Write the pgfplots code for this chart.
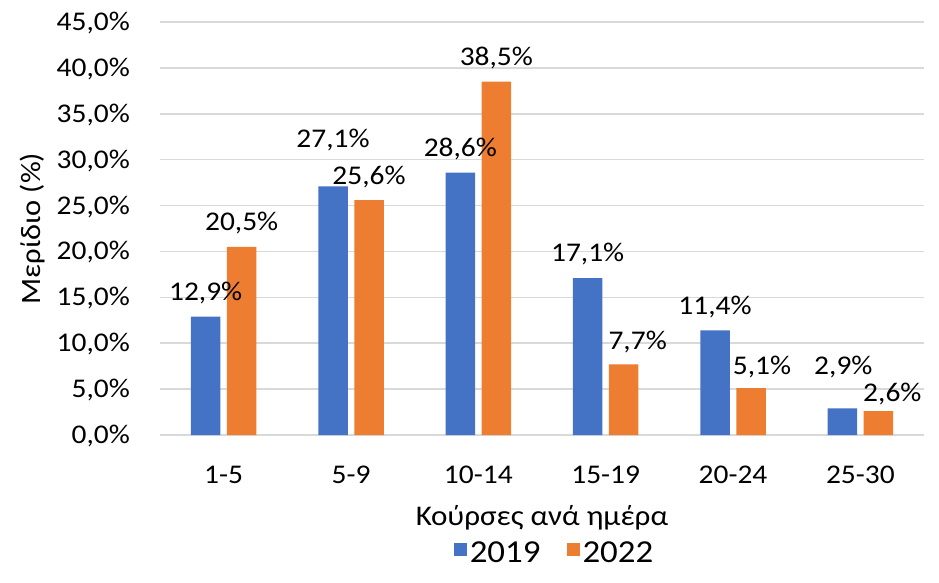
\documentclass[border=0pt]{standalone}
\usepackage{pgfplots}
\pgfplotsset{compat=1.18}
\usepackage{pgfplotstable}
\usepackage{fontspec}
\setmainfont{Carlito}[FakeStretch=1.09]
\definecolor{cblue}{HTML}{4472C4}
\definecolor{corange}{HTML}{ED7D31}
\definecolor{cgrid}{HTML}{D9D9D9}

\pgfplotstableread{
x y dx dy
0 12.9 0 0
1 27.1 0 23
2 28.6 0 0
3 17.1 0 1
4 11.4 0 0
5 2.9 1 18
}\dataA
\pgfplotstableread{
x y dx dy
0 20.5 0 0
1 25.6 0 0
2 38.5 0 0
3 7.7 14 -1
4 5.1 11 -2
5 2.6 14 -6
}\dataB

\begin{document}
\begin{tikzpicture}[font=\fontsize{27pt}{32pt}\selectfont]
\useasboundingbox (-160pt,-148pt) rectangle (779pt,435pt);
\begin{axis}[
  scale only axis,
  width=764pt, height=413pt,
  at={(0,0)}, anchor=south west,
  xmin=-0.5, xmax=5.5, ymin=0, ymax=45,
  enlargelimits=false,
  clip=false,
  ybar=6.5pt, bar width=29.5pt,
  axis line style={draw=none},
  major tick length=0pt,
  ymajorgrids, grid style={cgrid, line width=1.5pt},
  xtick=data,
  xticklabels={1-5,5-9,10-14,15-19,20-24,25-30},
  ytick={0,5,...,45},
  yticklabels={{0,0\%},{5,0\%},{10,0\%},{15,0\%},{20,0\%},{25,0\%},{30,0\%},{35,0\%},{40,0\%},{45,0\%}},
  xticklabel style={anchor=base, inner sep=0pt, yshift=-48pt},
  yticklabel style={anchor=base east, inner sep=0pt, xshift=-30pt, yshift=-8.5pt},
  xlabel={Κούρσες ανά ημέρα},
  xlabel style={at={(axis description cs:0.5,0)}, anchor=base, inner sep=0pt, yshift=-90pt, font=\fontsize{28.5pt}{33pt}\selectfont},
  ylabel={Μερίδιο (\%)},
  ylabel style={at={(axis description cs:0,0.5)}, anchor=center, inner sep=0pt, yshift=127pt, font=\fontsize{28pt}{33pt}\selectfont},
  legend style={at={(axis description cs:0.5,0)}, anchor=center, yshift=-118pt, xshift=13pt, draw=none, fill=none,
    legend columns=2, /tikz/every even column/.append style={column sep=24pt},
    font=\fontsize{32pt}{36pt}\selectfont, inner sep=0pt, nodes={inner sep=2.5pt}},
  legend image code/.code={\fill[#1] (0pt,-3pt) rectangle (13pt,10pt);},
  nodes near coords={\pgfmathprintnumber[fixed,fixed zerofill,precision=1,use comma,assume math mode=true]{\pgfplotspointmeta}\%},
  visualization depends on={\thisrow{dx} \as \dx},
  visualization depends on={\thisrow{dy} \as \dy},
  nodes near coords style={anchor=base, inner sep=0pt, xshift=\dx pt, yshift=16pt+\dy pt, text=black},
]
\addplot[fill=cblue, draw=none] table[x=x,y=y] {\dataA};
\addplot[fill=corange, draw=none] table[x=x,y=y] {\dataB};
\legend{2019,2022}
\end{axis}
\end{tikzpicture}
\end{document}
